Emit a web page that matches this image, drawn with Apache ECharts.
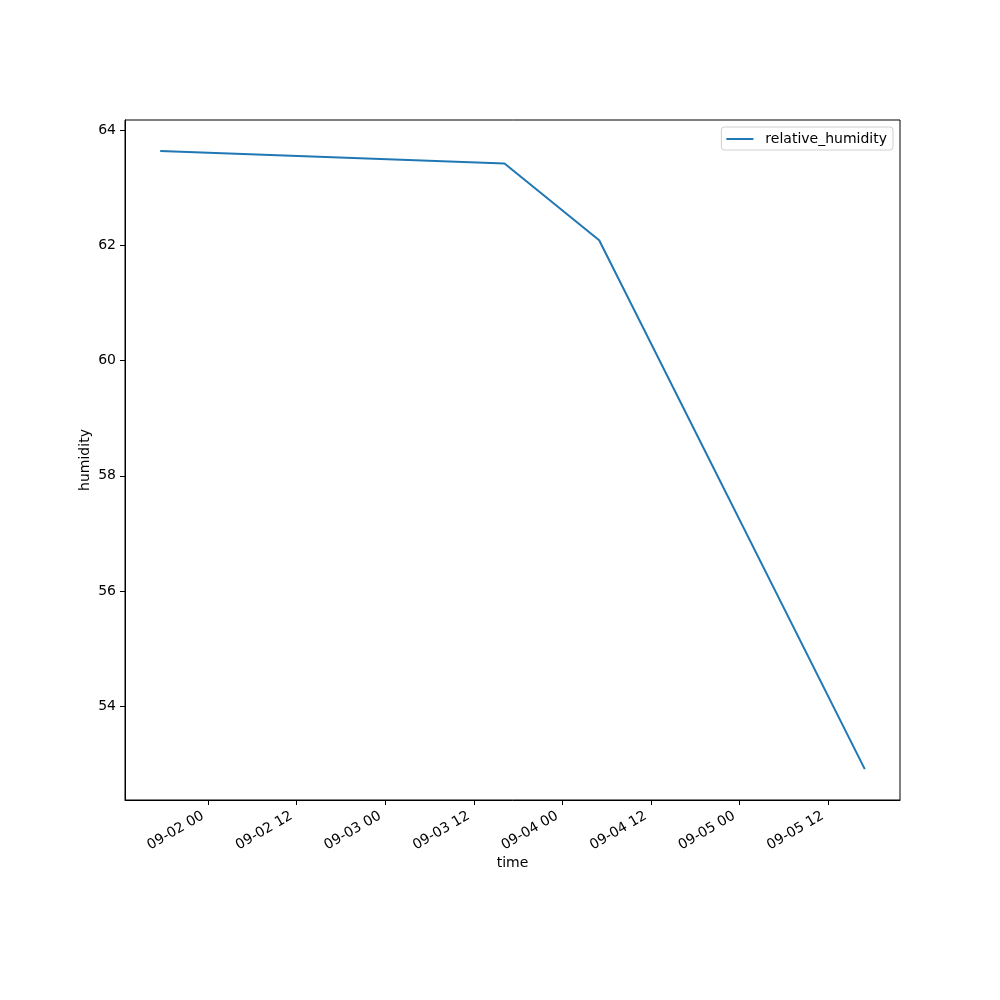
<!DOCTYPE html>
<html>
<head>
<meta charset="utf-8">
<script src="https://cdn.jsdelivr.net/npm/echarts@6/dist/echarts.min.js"></script>
<style>html,body{margin:0;padding:0;background:#fff}#chart{width:1000px;height:1000px}</style>
</head>
<body>
<div id="chart"></div>
<script>
const times = ['2023-09-01 17:30', '2023-09-03 16:10', '2023-09-04 05:00', '2023-09-05 17:00'];
const humidity = [63.64, 63.42, 62.09, 52.91];
const seriesName = 'relative_humidity';
const xLabel = 'time';
const yLabel = 'humidity';
const xTickTimes = ['2023-09-02 00:00', '2023-09-02 12:00', '2023-09-03 00:00', '2023-09-03 12:00',
                    '2023-09-04 00:00', '2023-09-04 12:00', '2023-09-05 00:00', '2023-09-05 12:00'];
const yTicks = [54, 56, 58, 60, 62, 64];

function parseT(s) {
  const [d, t] = s.split(' ');
  const [Y, M, D] = d.split('-').map(Number);
  const [h, m] = t.split(':').map(Number);
  return new Date(Y, M - 1, D, h, m).getTime();
}
const ts = times.map(parseT);
const xTicks = xTickTimes.map(parseT);
const data = ts.map((t, i) => [t, humidity[i]]);
const tMin = Math.min(...ts), tMax = Math.max(...ts);
const tPad = (tMax - tMin) * 0.05;
const yMinD = Math.min(...humidity), yMaxD = Math.max(...humidity);
const yPad = (yMaxD - yMinD) * 0.05;
const pad2 = n => String(n).padStart(2, '0');
const FONT = 'DejaVu Sans';

const chart = echarts.init(document.getElementById('chart'), null, {renderer: 'canvas'});
chart.setOption({
  animation: false,
  backgroundColor: '#fff',
  textStyle: {fontFamily: FONT},
  grid: {left: 125, right: 100, top: 120, bottom: 200, show: true, borderColor: '#000', borderWidth: 1, containLabel: false},
  legend: {
    right: 107, top: 127,
    data: [seriesName],
    icon: 'rect',
    backgroundColor: '#fff',
    borderColor: '#d0d0d0', borderWidth: 1, borderRadius: 3,
    padding: [5, 6, 4, 5],
    itemWidth: 27, itemHeight: 2, itemGap: 10,
    textStyle: {fontFamily: FONT, fontSize: 14, color: '#000', padding: [0, 0, 0, 7]}
  },
  xAxis: {
    type: 'value',
    min: tMin - tPad, max: tMax + tPad,
    scale: true,
    name: xLabel, nameLocation: 'middle', nameGap: 56, nameMoveOverlap: false,
    nameTextStyle: {fontFamily: FONT, fontSize: 14, color: '#000'},
    axisLine: {show: true, lineStyle: {color: '#000', width: 1}},
    axisTick: {show: true, inside: false, length: 5, customValues: xTicks, lineStyle: {color: '#000', width: 1}},
    splitLine: {show: false},
    axisLabel: {
      rotate: 30, margin: 12, padding: [0, 6, 0, 0], color: '#000', fontFamily: FONT, fontSize: 14,
      customValues: xTicks, hideOverlap: false,
      formatter: v => { const d = new Date(v); return pad2(d.getMonth() + 1) + '-' + pad2(d.getDate()) + ' ' + pad2(d.getHours()); }
    }
  },
  yAxis: {
    type: 'value',
    min: yMinD - yPad, max: yMaxD + yPad,
    scale: true,
    name: yLabel, nameLocation: 'middle', nameGap: 33, nameMoveOverlap: false,
    nameTextStyle: {fontFamily: FONT, fontSize: 14, color: '#000'},
    axisLine: {show: true, lineStyle: {color: '#000', width: 1}},
    axisTick: {show: true, inside: false, length: 5, customValues: yTicks, lineStyle: {color: '#000', width: 1}},
    splitLine: {show: false},
    axisLabel: {margin: 9, color: '#000', fontFamily: FONT, fontSize: 14, customValues: yTicks}
  },
  series: [{
    name: seriesName,
    type: 'line',
    data: data,
    symbol: 'none',
    lineStyle: {color: '#1f77b4', width: 2},
    itemStyle: {color: '#1f77b4'}
  }]
});
</script>
</body>
</html>
